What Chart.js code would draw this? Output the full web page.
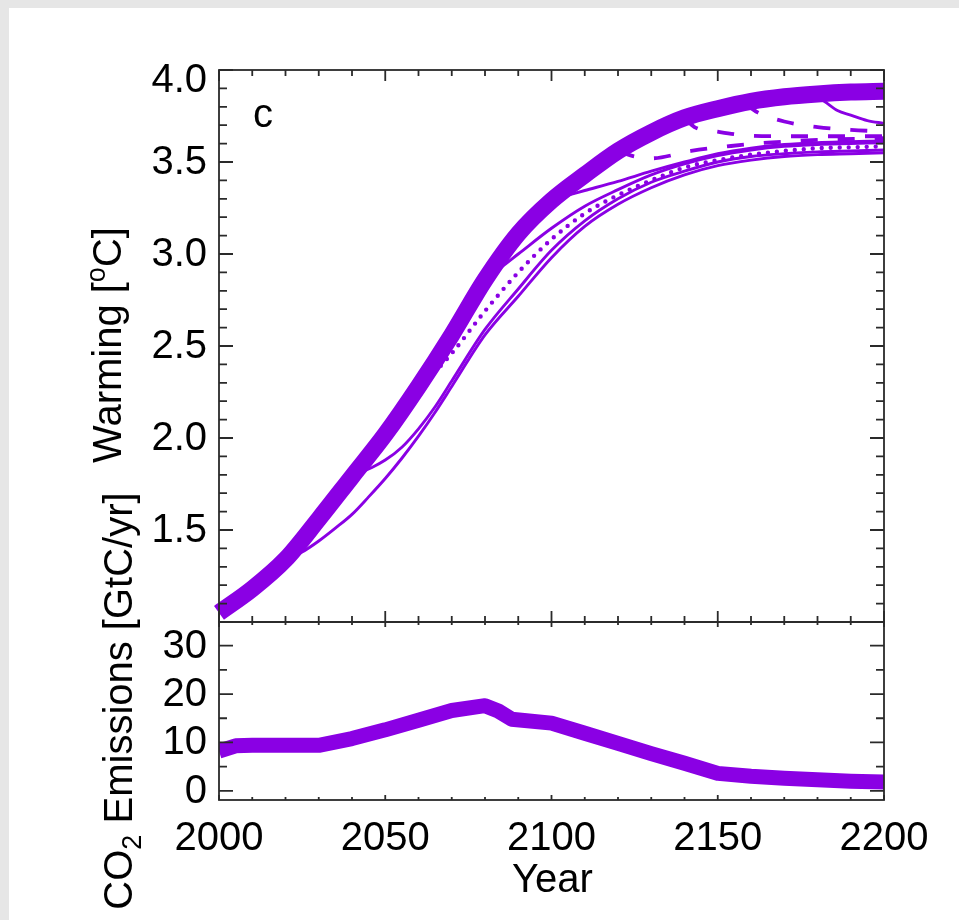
<!DOCTYPE html>
<html><head><meta charset="utf-8">
<script src="https://cdn.jsdelivr.net/npm/chart.js@4"></script>
<style>
html,body{margin:0;padding:0;background:#e6e6e6;}
#wrap{position:relative;width:959px;height:920px;overflow:hidden;background:#e6e6e6;}
#bg{position:absolute;left:9px;top:8px;right:0;bottom:0;background:#fff;}
canvas{position:absolute;left:0;top:0;}
</style></head><body>
<div id="wrap"><div id="bg"></div>
<canvas id="cBottom" width="959" height="920"></canvas>
<canvas id="cTop" width="959" height="920"></canvas>
</div>
<script>
// ---------- data ----------
const refYears   = [2000,2010,2020,2030,2040,2050,2060,2070,2080,2090,2100,2110,2120,2130,2140,2150,2160,2170,2180,2190,2200];
const refWarming = [1.05,1.18,1.34,1.56,1.79,2.02,2.28,2.56,2.86,3.11,3.29,3.43,3.56,3.66,3.74,3.79,3.83,3.855,3.87,3.88,3.885];

const b2020Years   = [2020,2025,2030,2035,2040,2045,2050,2055,2060,2065,2070,2080,2090,2100,2110,2120,2130,2140,2150,2160,2170,2180,2190,2200];
const b2020Warming = [1.34,1.38,1.44,1.51,1.585,1.68,1.78,1.89,2.01,2.14,2.28,2.56,2.77,2.98,3.15,3.27,3.36,3.43,3.48,3.51,3.53,3.54,3.545,3.55];

const b2040Years   = [2038,2042,2046,2050,2055,2060,2065,2070,2080,2090,2100,2110,2120,2130,2140,2150,2160,2170,2180,2190,2200];
const b2040Warming = [1.79,1.81,1.84,1.88,1.95,2.05,2.17,2.31,2.59,2.81,3.02,3.18,3.30,3.39,3.45,3.50,3.53,3.545,3.555,3.56,3.565];

const b2060Years   = [2061,2065,2070,2080,2090,2100,2110,2120,2130,2140,2150,2160,2170,2180,2190,2200];
const b2060Warming = [2.29,2.36,2.46,2.69,2.90,3.08,3.22,3.32,3.40,3.47,3.51,3.54,3.56,3.575,3.58,3.585];

const b2080Years   = [2081,2085,2090,2100,2110,2120,2130,2140,2150,2160,2170,2180,2190,2200];
const b2080Warming = [2.88,2.93,3.00,3.14,3.26,3.35,3.43,3.49,3.535,3.565,3.585,3.595,3.60,3.605];

const b2100Years   = [2101,2105,2110,2120,2130,2140,2150,2160,2170,2180,2190,2200];
const b2100Warming = [3.30,3.32,3.345,3.395,3.45,3.50,3.545,3.575,3.595,3.605,3.61,3.615];

const b2120Years   = [2120,2125,2130,2142,2154,2165,2180,2200];
const b2120Warming = [3.56,3.53,3.52,3.56,3.587,3.605,3.62,3.63];

const b2140Years   = [2140,2143,2150,2158,2170,2185,2200];
const b2140Warming = [3.74,3.69,3.665,3.645,3.64,3.64,3.64];

const b2160Years   = [2158,2162,2170,2180,2190,2200];
const b2160Warming = [3.82,3.77,3.72,3.69,3.675,3.665];

const b2180Years   = [2178,2182,2186,2190,2195,2200];
const b2180Warming = [3.87,3.83,3.78,3.755,3.725,3.71];

const emisYears  = [2000,2005,2010,2020,2030,2040,2050,2060,2070,2080,2084,2088,2100,2110,2120,2130,2140,2150,2160,2170,2180,2190,2200];
const emisValues = [8.2,9.3,9.4,9.4,9.4,10.8,12.6,14.6,16.6,17.6,16.5,14.8,14.0,11.9,9.8,7.7,5.7,3.6,3.0,2.6,2.3,2.0,1.8];

const yearTickLabels     = ['2000','2050','2100','2150','2200'];
const warmingTickLabels  = ['1.5','2.0','2.5','3.0','3.5','4.0'];
const emissionTickLabels = ['0','10','20','30'];

// ---------- style ----------
const PURPLE = 'rgb(138,0,228)';
const AXIS = '#2a2a2a';
const FONT = '40px "Liberation Sans", Arial, Helvetica, sans-serif';
const SMALL = '27px "Liberation Sans", Arial, Helvetica, sans-serif';

function pts(xs, ys){ return xs.map((x,i)=>({x:x, y:ys[i]})); }

function ds(xs, ys, kind){
  const d = {data: pts(xs, ys), borderColor: PURPLE, pointRadius: 0, fill: false,
             cubicInterpolationMode: 'monotone', borderJoinStyle: 'round'};
  if (kind === 'thick') { d.borderWidth = 17; d.clip = {left: 6, right: 0, top: 0, bottom: 6}; }
  else if (kind === 'dot') { d.borderWidth = 4.4; d.borderDash = [0, 9]; d.borderCapStyle = 'round'; }
  else if (kind === 'dash') { d.borderWidth = 3.8; d.borderDash = [17, 20]; }
  else { d.borderWidth = 2.9; }
  return d;
}

function framePlugin(o){
  return {
    id: 'frame' + o.name,
    afterDatasetsDraw(chart){
      const ctx = chart.ctx, a = chart.chartArea, x = chart.scales.x, y = chart.scales.y;
      ctx.save();
      ctx.strokeStyle = AXIS; ctx.lineWidth = 1.8; ctx.lineCap = 'butt';
      ctx.strokeRect(a.left, a.top, a.right - a.left, a.bottom - a.top);
      ctx.beginPath();
      const nx = Math.round((x.max - x.min) / o.xMinor);
      for (let i = 0; i <= nx; i++) {
        const v = x.min + i * o.xMinor;
        const px = x.getPixelForValue(v);
        const major = (i % Math.round(o.xMajor / o.xMinor)) === 0;
        const L = major ? o.xMajLen : o.xMinLen;
        ctx.moveTo(px, a.top); ctx.lineTo(px, a.top + L);
        ctx.moveTo(px, a.bottom); ctx.lineTo(px, a.bottom - L);
      }
      const k0 = Math.ceil(y.min / o.yMinor - 1e-6), k1 = Math.floor(y.max / o.yMinor + 1e-6);
      const per = Math.round(o.yMajor / o.yMinor);
      for (let k = k0; k <= k1; k++) {
        const v = k * o.yMinor;
        const py = y.getPixelForValue(v);
        const major = ((k % per) + per) % per === 0;
        const L = major ? o.yMajLen : o.yMinLen;
        ctx.moveTo(a.left, py); ctx.lineTo(a.left + L, py);
        ctx.moveTo(a.right, py); ctx.lineTo(a.right - L, py);
      }
      ctx.stroke();
      // y tick labels
      ctx.fillStyle = '#000'; ctx.font = FONT;
      ctx.textAlign = 'right'; ctx.textBaseline = 'middle';
      o.yLabels.forEach(t => {
        let py = y.getPixelForValue(parseFloat(t));
        if (py < a.top + 10) py = a.top + 10;
        ctx.fillText(t, a.left - 12, py + 1);
      });
      if (o.xLabels) {
        ctx.textAlign = 'center'; ctx.textBaseline = 'alphabetic';
        o.xLabels.forEach(t => {
          ctx.fillText(t, x.getPixelForValue(parseFloat(t)), a.bottom + 50);
        });
        ctx.fillText('Year', (a.left + a.right) / 2 + 1, a.bottom + 92);
      }
      if (o.extra) o.extra(ctx, a);
      ctx.restore();
    }
  };
}

function rotatedRich(ctx, parts, bx, cy){
  ctx.save();
  ctx.translate(bx, cy); ctx.rotate(-Math.PI / 2);
  ctx.textAlign = 'left'; ctx.textBaseline = 'alphabetic'; ctx.fillStyle = '#000';
  let W = 0;
  parts.forEach(p => { ctx.font = p.f; W += ctx.measureText(p.t).width; });
  let cx = -W / 2;
  parts.forEach(p => { ctx.font = p.f; ctx.fillText(p.t, cx, p.dy || 0); cx += ctx.measureText(p.t).width; });
  ctx.restore();
}

const topExtra = (ctx, a) => {
  ctx.font = FONT; ctx.textAlign = 'left'; ctx.textBaseline = 'alphabetic';
  ctx.fillText('c', 253, 127);
  rotatedRich(ctx, [{t:'Warming [', f:FONT}, {t:'o', f:SMALL, dy:-16}, {t:'C]', f:FONT}], 121, 345);
  rotatedRich(ctx, [{t:'CO', f:FONT}, {t:'2', f:SMALL, dy:9}, {t:' Emissions [GtC/yr]', f:FONT}], 132, 701);
};

const xScale = {type:'linear', min:2000, max:2200, display:false};

new Chart(document.getElementById('cTop'), {
  type: 'line',
  data: { datasets: [
    ds(refYears, refWarming, 'thick'),
    ds(b2180Years, b2180Warming, 'solid'),
    ds(b2160Years, b2160Warming, 'dash'),
    ds(b2140Years, b2140Warming, 'dash'),
    ds(b2120Years, b2120Warming, 'dash'),
    ds(b2100Years, b2100Warming, 'solid'),
    ds(b2080Years, b2080Warming, 'solid'),
    ds(b2060Years, b2060Warming, 'dot'),
    ds(b2040Years, b2040Warming, 'solid'),
    ds(b2020Years, b2020Warming, 'solid')
  ]},
  options: {
    responsive: false, animation: false, devicePixelRatio: 1,
    layout: {padding: {left: 219, right: 75, top: 70, bottom: 298}},
    plugins: {legend: {display: false}, tooltip: {enabled: false}},
    scales: { x: xScale, y: {type:'linear', min:1.0, max:4.0, display:false} }
  },
  plugins: [framePlugin({name:'top', xMinor:10, xMajor:50, xMinLen:6, xMajLen:11,
                         yMinor:0.1, yMajor:0.5, yMinLen:8, yMajLen:14,
                         yLabels: warmingTickLabels, extra: topExtra})]
});

new Chart(document.getElementById('cBottom'), {
  type: 'line',
  data: { datasets: [
    {data: pts(emisYears, emisValues), borderColor: PURPLE, borderWidth: 15, pointRadius: 0,
     tension: 0, borderJoinStyle: 'round', fill: false}
  ]},
  options: {
    responsive: false, animation: false, devicePixelRatio: 1,
    layout: {padding: {left: 219, right: 75, top: 622, bottom: 120}},
    plugins: {legend: {display: false}, tooltip: {enabled: false}},
    scales: { x: xScale, y: {type:'linear', min:-1.9, max:34.9, display:false} }
  },
  plugins: [framePlugin({name:'bottom', xMinor:10, xMajor:50, xMinLen:3, xMajLen:5,
                         yMinor:5, yMajor:10, yMinLen:8, yMajLen:14,
                         yLabels: emissionTickLabels, xLabels: yearTickLabels})]
});
</script>
</body></html>
